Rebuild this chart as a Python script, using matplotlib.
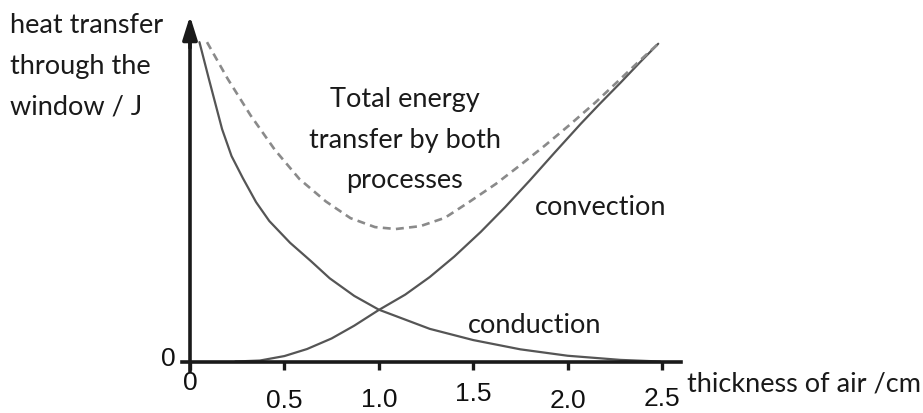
import matplotlib
matplotlib.use("Agg")
import matplotlib.pyplot as plt

# ---- data ----
cond_x = [0.05, 0.10, 0.17, 0.22, 0.28, 0.35, 0.42, 0.53, 0.64, 0.74, 0.87, 1.00, 1.27, 1.50, 1.75, 2.00, 2.28, 2.49]
cond_y = [9.98, 8.83, 7.26, 6.42, 5.73, 4.98, 4.39, 3.71, 3.14, 2.60, 2.05, 1.62, 1.02, 0.67, 0.38, 0.18, 0.05, 0.00]

conv_x = [0.24, 0.37, 0.50, 0.62, 0.75, 0.87, 1.00, 1.14, 1.27, 1.40, 1.54, 1.67, 1.80, 1.93, 2.07, 2.17, 2.28, 2.38, 2.48]
conv_y = [0.00, 0.03, 0.17, 0.39, 0.72, 1.12, 1.61, 2.09, 2.64, 3.28, 4.05, 4.83, 5.66, 6.52, 7.43, 8.05, 8.71, 9.33, 9.93]

tot_x = [0.09, 0.20, 0.32, 0.45, 0.58, 0.72, 0.85, 0.98, 1.09, 1.22, 1.35, 1.48, 1.62, 1.75, 1.88, 2.01, 2.15, 2.28, 2.38, 2.48]
tot_y = [9.98, 8.83, 7.70, 6.61, 5.70, 5.00, 4.48, 4.20, 4.14, 4.23, 4.49, 4.99, 5.55, 6.14, 6.75, 7.39, 8.11, 8.83, 9.39, 9.93]

xticks = [0, 0.5, 1.0, 1.5, 2.0, 2.5]
xtick_labels = ["0", "0.5", "1.0", "1.5", "2.0", "2.5"]
xtick_drop = [21, 39, 38, 32, 39, 37]   # label offset below axis (pixels)

W, H = 923, 414
fig = plt.figure(figsize=(W / 100, H / 100), dpi=100)
ax = fig.add_axes([0, 0, 1, 1])
# data <-> pixel mapping: x=0 at px 190, 188.8 px/unit; y=0 at py 362.5, 32 px/unit
x0, sx = 190.0, 188.8
y0, sy = 362.5, 32.0
ax.set_xlim(-x0 / sx, (W - x0) / sx)
ax.set_ylim(-(H - y0) / sy, y0 / sy)

text_font = ["Lato", "DejaVu Sans"]
num_font = ["Liberation Sans Narrow", "Liberation Sans", "DejaVu Sans"]
FS = 19.5

# axes spines
for s in ["top", "right"]:
    ax.spines[s].set_visible(False)
ax.spines["left"].set_position(("data", 0))
ax.spines["bottom"].set_position(("data", 0))
ax.spines["left"].set_bounds(-0.29, 10.3)
ax.spines["bottom"].set_bounds(-0.045, 2.6)
for s in ["left", "bottom"]:
    ax.spines[s].set_linewidth(2.6)
    ax.spines[s].set_color("#1a1a1a")
ax.set_xticks(xticks)
ax.set_xticklabels([])
ax.set_yticks([])
ax.tick_params(axis="x", direction="out", length=6, width=2.4, color="#1a1a1a")
ax.patch.set_alpha(0)

# y-axis arrow head
ax.annotate("", xy=(0, (y0 - 17) / sy), xytext=(0, 9.8),
            arrowprops=dict(arrowstyle="-|>,head_length=0.7,head_width=0.22",
                            color="#1a1a1a", lw=2.6, shrinkA=0, shrinkB=0,
                            mutation_scale=20))

# curves
ax.plot(cond_x, cond_y, color="#555555", lw=1.6, solid_capstyle="round")
ax.plot(conv_x, conv_y, color="#555555", lw=1.6, solid_capstyle="round")
ax.plot(tot_x, tot_y, color="#8a8a8a", lw=1.9, dashes=(3.0, 2.0))

# tick labels
for xv, lab, d in zip(xticks, xtick_labels, xtick_drop):
    ax.annotate(lab, xy=(xv, 0), xytext=(0, -d), textcoords="offset pixels",
                ha="center", va="center", fontsize=19, family=num_font, color="#111111")
ax.annotate("0", xy=(0, 0), xytext=(-22, 3), textcoords="offset pixels",
            ha="center", va="center", fontsize=19, family=num_font, color="#111111")

def ptext(px, py, s, ha="left", **kw):
    fig.text(px / W, 1 - py / H, s, ha=ha, va="baseline", fontsize=FS,
             family=text_font, color="#1a1a1a", **kw)

ptext(10, 33, "heat transfer")
ptext(10, 74, "through the")
ptext(10, 115, "window / J")
ptext(405, 107, "Total energy", ha="center")
ptext(405, 148, "transfer by both", ha="center")
ptext(405, 188, "processes", ha="center")
ptext(535, 215, "convection")
ptext(468, 333, "conduction")
ptext(687, 392, "thickness of air /cm")

fig.savefig("out.png", dpi=100)
